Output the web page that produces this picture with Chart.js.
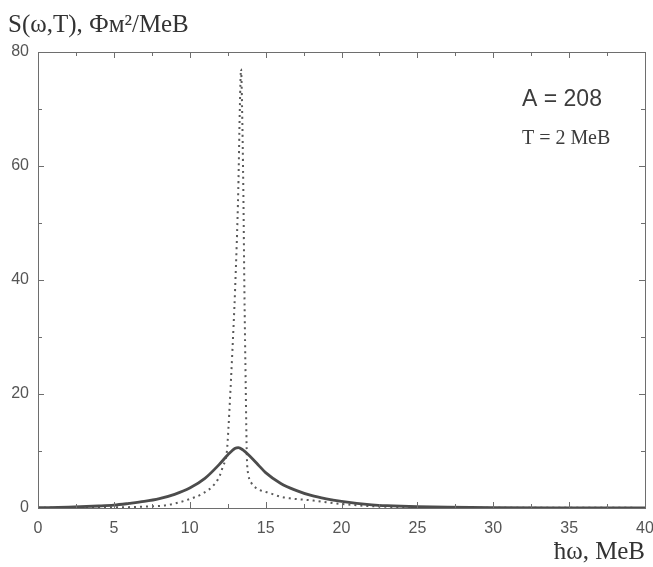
<!DOCTYPE html>
<html>
<head>
<meta charset="utf-8">
<script src="https://cdn.jsdelivr.net/npm/chart.js@4.4.1/dist/chart.umd.min.js"></script>
<style>
    html, body { margin: 0; padding: 0; background: #fff; }
</style>
</head>
<body>
<canvas id="strength" width="653" height="567"></canvas>
<script>
// strength function, A = 208, T = 2 MeV
// solid line
var omegaT = [0, 2, 4, 5, 6, 7, 8, 9, 10, 11, 12, 12.5, 13, 13.2, 13.5, 14, 14.5, 15, 16, 17, 18, 19, 20, 21, 22, 23, 25, 27, 30, 35, 40];
var strengthT = [0.05, 0.15, 0.35, 0.5, 0.8, 1.15, 1.65, 2.4, 3.5, 5.2, 7.8, 9.3, 10.5, 10.6, 10.2, 9.0, 7.6, 6.2, 4.3, 3.1, 2.2, 1.6, 1.15, 0.8, 0.55, 0.4, 0.22, 0.13, 0.07, 0.03, 0.02];

// dotted line
var omegaDot = [0, 4, 6, 7.5, 8.5, 9.8, 10.9, 11.67, 12.0, 12.17, 12.45, 12.55, 12.65, 12.8, 12.99, 13.2, 13.3, 13.38, 13.45, 13.53, 13.6, 13.69, 13.76, 13.87, 14.08, 14.4, 15.3, 15.95, 16.6, 18.15, 20, 22.5, 25, 30, 40];
var strengthDot = [0.02, 0.08, 0.15, 0.3, 0.5, 1.4, 2.6, 4.3, 5.8, 7.2, 10, 14, 19, 27, 38.5, 56, 70, 77, 70, 56, 38.5, 21, 9.3, 5.8, 4.3, 3.45, 2.6, 2.0, 1.7, 1.3, 0.7, 0.25, 0.12, 0.05, 0.02];

var xRange = [0, 40];
var yRange = [0, 80];
var xStep = 5, yStep = 20;
var xMinorStep = 2.5, yMinorStep = 10;

var serif = '"Liberation Serif", "Times New Roman", serif';
var sans = '"Liberation Sans", Arial, sans-serif';

function toPoints(xs, ys) {
    var pts = [];
    for (var i = 0; i < xs.length; i++) {
        pts.push({ x: xs[i], y: ys[i] });
    }
    return pts;
}

// box around the plot with inward ticks
var framePlugin = {
    id: 'frame',
    afterDatasetsDraw: function (chart) {
        var ctx = chart.ctx;
        var a = chart.chartArea;
        var xs = chart.scales.x, ys = chart.scales.y;
        ctx.save();
        ctx.strokeStyle = '#6e6e6e';
        ctx.lineWidth = 1;
        ctx.strokeRect(Math.round(a.left) + 0.5, Math.round(a.top) + 0.5,
            Math.round(a.right - a.left), Math.round(a.bottom - a.top));
        ctx.beginPath();
        for (var v = xs.min; v <= xs.max; v += xMinorStep) {
            var px = Math.round(xs.getPixelForValue(v)) + 0.5;
            var len = (v % xStep === 0) ? 6 : 4;
            ctx.moveTo(px, a.bottom); ctx.lineTo(px, a.bottom - len);
            ctx.moveTo(px, a.top); ctx.lineTo(px, a.top + len);
        }
        for (var w = ys.min; w <= ys.max; w += yMinorStep) {
            var py = Math.round(ys.getPixelForValue(w)) + 0.5;
            var ylen = (w % yStep === 0) ? 6 : 4;
            ctx.moveTo(a.left, py); ctx.lineTo(a.left + ylen, py);
            ctx.moveTo(a.right, py); ctx.lineTo(a.right - ylen, py);
        }
        ctx.stroke();
        ctx.restore();
    }
};

var notePlugin = {
    id: 'notes',
    afterDraw: function (chart) {
        var ctx = chart.ctx;
        ctx.save();
        ctx.fillStyle = '#3c3c3c';
        ctx.textAlign = 'left';
        ctx.textBaseline = 'alphabetic';
        ctx.font = '23px ' + sans;
        ctx.fillText('A = 208', 522, 106);
        ctx.font = '20px ' + serif;
        ctx.fillText('T = 2 МеВ', 522, 144);
        ctx.restore();
    }
};

var ctx = document.getElementById('strength').getContext('2d');
var chart = new Chart(ctx, {
    type: 'line',
    data: {
        datasets: [
            {
                data: toPoints(omegaT, strengthT),
                borderColor: '#4c4c4c',
                borderWidth: 2.8,
                pointRadius: 0,
                cubicInterpolationMode: 'monotone',
                fill: false
            },
            {
                data: toPoints(omegaDot, strengthDot),
                borderColor: '#5a5a5a',
                borderWidth: 2,
                borderDash: [2, 4],
                pointRadius: 0,
                cubicInterpolationMode: 'monotone',
                fill: false
            }
        ]
    },
    options: {
        responsive: false,
        animation: false,
        layout: { padding: { left: 8, right: 8, top: 0, bottom: 0 } },
        plugins: {
            legend: { display: false },
            tooltip: { enabled: false },
            title: {
                display: true,
                text: 'S(ω,T), Фм²/МеВ',
                align: 'start',
                color: '#333',
                font: { family: serif, size: 25, weight: 'normal' },
                padding: { top: 10, bottom: 12 }
            }
        },
        scales: {
            x: {
                type: 'linear',
                min: xRange[0],
                max: xRange[1],
                ticks: {
                    stepSize: xStep,
                    color: '#555',
                    font: { family: sans, size: 16 },
                    padding: 11,
                    maxRotation: 0
                },
                grid: { display: false, drawTicks: false },
                border: { display: false },
                title: {
                    display: true,
                    text: 'ħω, МеВ',
                    align: 'end',
                    color: '#333',
                    font: { family: serif, size: 25 },
                    padding: { top: 0, bottom: 0 }
                },
                afterFit: function (s) { s.height = 59; s.paddingLeft = 0; s.paddingRight = 0; }
            },
            y: {
                min: yRange[0],
                max: yRange[1],
                ticks: {
                    stepSize: yStep,
                    color: '#555',
                    font: { family: sans, size: 16 },
                    padding: 9
                },
                grid: { display: false, drawTicks: false },
                border: { display: false },
                afterFit: function (s) { s.width = 30; s.paddingTop = 0; s.paddingBottom = 0; }
            }
        }
    },
    plugins: [framePlugin, notePlugin]
});
</script>
</body>
</html>
